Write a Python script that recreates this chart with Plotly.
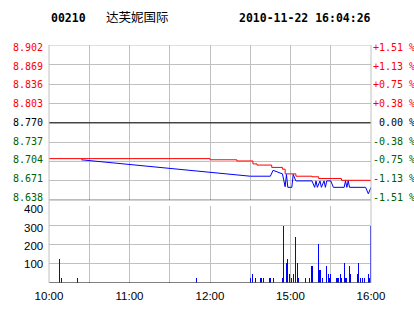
import plotly.graph_objects as go

# ---------------- data ----------------
STOCK_CODE = "00210"
STOCK_NAME = "达芙妮国际"
TIMESTAMP = "2010-11-22 16:04:26"
PREV_CLOSE = 8.770

PRICE_LEVELS = [8.902, 8.869, 8.836, 8.803, 8.770, 8.737, 8.704, 8.671, 8.638]
VOL_TICKS = [100, 200, 300, 400]
X_TICK_TIMES = ["10:00", "10:30", "11:00", "11:30", "12:00", "12:30", "15:00", "15:30", "16:00"]
X_TICK_LABELS = ["10:00", "", "11:00", "", "12:00", "", "15:00", "", "16:00"]

PRICE_TIMES = ["10:24", "11:30", "12:30", "14:45", "14:47", "14:54", "14:56", "14:57", "14:58",
               "15:01", "15:02", "15:04", "15:16", "15:18", "15:19", "15:20", "15:22", "15:23",
               "15:25", "15:26", "15:27", "15:30", "15:32", "15:40", "15:41", "15:42", "15:43",
               "15:44", "15:56", "15:58", "16:00"]
PRICE_VALUES = [8.707, 8.693, 8.679, 8.679, 8.689, 8.683, 8.661, 8.682, 8.660,
                8.660, 8.682, 8.671, 8.671, 8.660, 8.671, 8.660, 8.671, 8.660,
                8.671, 8.660, 8.671, 8.671, 8.660, 8.660, 8.671, 8.660, 8.671,
                8.660, 8.660, 8.649, 8.660]

AVG_TIMES = ["10:00", "12:00", "12:20", "14:32", "14:35", "14:46", "14:54", "14:56",
             "15:04", "15:16", "15:21", "15:38", "16:00"]
AVG_VALUES = [8.709, 8.707, 8.705, 8.700, 8.698, 8.694, 8.691, 8.683,
              8.679, 8.678, 8.675, 8.672, 8.671]

VOL_TIMES = ["10:08", "10:09", "10:21", "11:50",
             "14:30", "14:32", "14:34", "14:38", "14:40", "14:44", "14:45", "14:47",
             "14:54", "14:55", "14:57", "14:58", "14:59", "15:01", "15:02", "15:04",
             "15:05", "15:06", "15:11", "15:14", "15:16", "15:21", "15:22", "15:24",
             "15:27", "15:28", "15:29", "15:30", "15:34", "15:35", "15:36", "15:37",
             "15:38", "15:40", "15:41", "15:42", "15:44", "15:45", "15:50", "15:51",
             "15:52", "15:54", "15:55", "15:58", "15:59", "16:00"]
VOL_VALUES = [122, 26, 26, 22,
              22, 45, 22, 22, 22, 22, 22, 22,
              22, 297, 100, 122, 45, 22, 45, 240,
              100, 22, 22, 22, 86, 200, 65, 22,
              86, 45, 22, 45, 22, 22, 22, 45,
              22, 100, 22, 22, 86, 45, 45, 100,
              22, 22, 22, 45, 22, 297]


def tpos(t):
    h, m = map(int, t.split(":"))
    mins = h * 60 + m
    return mins - 600 if mins <= 750 else mins - 870 + 150


# ---------------- layout geometry ----------------
W, H = 414, 314
L, R, T, B = 49, 371, 45, 288


def px_x(x):
    return (x - L) / (R - L)


def px_y(y):
    return (B - y) / (B - T)


GRID = "#c0c0c0"
RED = "#ff0000"
GREEN = "#006000"
MONO = "DejaVu Sans Mono"
SANS = "Liberation Sans"

fig = go.Figure()

fig.add_trace(go.Scatter(
    x=[tpos(t) for t in AVG_TIMES], y=AVG_VALUES, mode="lines",
    line=dict(color=RED, width=1, shape="hv"), xaxis="x", yaxis="y", hoverinfo="skip"))
fig.add_trace(go.Scatter(
    x=[tpos(t) for t in PRICE_TIMES], y=PRICE_VALUES, mode="lines",
    line=dict(color="#0000ff", width=1), xaxis="x", yaxis="y", hoverinfo="skip"))
fig.add_trace(go.Bar(
    x=[tpos(t) for t in VOL_TIMES], y=VOL_VALUES, width=0.8,
    marker=dict(color="#0000ff", line=dict(width=0)), xaxis="x2", yaxis="y2", hoverinfo="skip"))

xt = [tpos(t) for t in X_TICK_TIMES]
common_x = dict(range=[0, 240], tickvals=xt, showgrid=True, gridcolor=GRID, gridwidth=1,
                zeroline=False, showline=False, fixedrange=True)

fig.update_layout(
    width=W, height=H,
    margin=dict(l=L, r=W - R, t=T, b=H - B, pad=0),
    paper_bgcolor="white", plot_bgcolor="white",
    showlegend=False,
    bargap=0,
    xaxis=dict(**common_x, showticklabels=False, anchor="y"),
    yaxis=dict(range=[PRICE_LEVELS[-1], PRICE_LEVELS[0]], tickvals=PRICE_LEVELS,
               showticklabels=False, showgrid=True, gridcolor=GRID, gridwidth=1,
               zeroline=False, domain=[px_y(203.5), px_y(45.5)], fixedrange=True),
    xaxis2=dict(**common_x, ticktext=X_TICK_LABELS, showticklabels=True, anchor="y2",
                tickfont=dict(family=SANS, size=11.5, color="black"),
                ticks="", ticklabelstandoff=5),
    yaxis2=dict(range=[0, 400], tickvals=VOL_TICKS, showticklabels=False,
                showgrid=True, gridcolor=GRID, gridwidth=1, zeroline=False,
                domain=[px_y(287.5), px_y(209.5)], anchor="x2", fixedrange=True),
)

shapes = []
# black reference lines
for yv in (PREV_CLOSE, PRICE_LEVELS[-1]):
    shapes.append(dict(type="line", xref="x", yref="y", x0=0, x1=240, y0=yv, y1=yv,
                       line=dict(color="black", width=1)))
shapes.append(dict(type="line", xref="x2", yref="y2", x0=0, x1=240, y0=0, y1=0,
                   line=dict(color="black", width=1)))
# frame sides
for xp in (0, 1):
    shapes.append(dict(type="line", xref="paper", yref="paper", x0=xp, x1=xp, y0=0, y1=1,
                       line=dict(color=GRID, width=1)))
shapes.append(dict(type="line", xref="x", yref="y", x0=0, x1=240,
                   y0=PRICE_LEVELS[0], y1=PRICE_LEVELS[0], line=dict(color=GRID, width=1)))
fig.update_layout(shapes=shapes)

ann = []
n = len(PRICE_LEVELS)
for i, v in enumerate(PRICE_LEVELS):
    if v > PREV_CLOSE + 1e-9:
        col = RED
    elif v < PREV_CLOSE - 1e-9:
        col = GREEN
    else:
        col = "black"
    pct = (v - PREV_CLOSE) / PREV_CLOSE * 100
    if abs(pct) < 0.005:
        ptxt = " 0.00 %"
    else:
        ptxt = f"{pct:+.2f} %"
    ys = -2 + 5 * i / (n - 1)
    ann.append(dict(text=f"{v:.3f}", xref="paper", yref="y", x=px_x(45), y=v, yshift=ys,
                    xanchor="right", yanchor="middle", showarrow=False,
                    font=dict(family=MONO, size=10, color=col)))
    ann.append(dict(text=ptxt, xref="paper", yref="y", x=px_x(371), y=v, yshift=ys,
                    xanchor="left", yanchor="middle", showarrow=False,
                    font=dict(family=MONO, size=10, color=col)))

for v in VOL_TICKS:
    ann.append(dict(text=str(v), xref="paper", yref="y2", x=px_x(45), y=v,
                    yshift=-1 - (v / 100 - 1) * 0.7,
                    xanchor="right", yanchor="middle", showarrow=False,
                    font=dict(family=SANS, size=11.5, color="black")))

ann.append(dict(text=f"<b>{STOCK_CODE}</b>", xref="paper", yref="paper", x=px_x(49), y=px_y(17),
                xanchor="left", yanchor="middle", showarrow=False,
                font=dict(family=MONO, size=11.5, color="black")))
ann.append(dict(text=STOCK_NAME, xref="paper", yref="paper", x=px_x(104), y=px_y(16),
                xanchor="left", yanchor="middle", showarrow=False,
                font=dict(family="Noto Sans CJK SC", size=12.5, color="black")))
ann.append(dict(text=f"<b>{TIMESTAMP}</b>", xref="paper", yref="paper", x=px_x(237), y=px_y(17),
                xanchor="left", yanchor="middle", showarrow=False,
                font=dict(family=MONO, size=11.5, color="black")))
fig.update_layout(annotations=ann)

fig.write_html("out.html", config=dict(displayModeBar=False, staticPlot=True))
